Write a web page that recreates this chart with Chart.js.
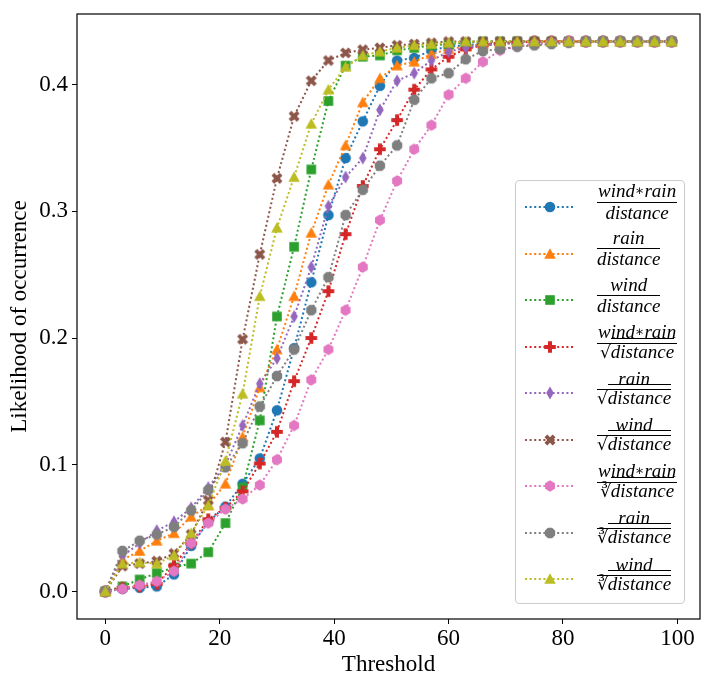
<!DOCTYPE html>
<html>
<head>
<meta charset="utf-8">
<script src="https://cdn.jsdelivr.net/npm/chart.js@4.4.1/dist/chart.umd.min.js"></script>
<style>
  body { margin: 0; background: #fff; }
  #wrap { position: relative; width: 712px; height: 689px; }
  #legend {
    position: absolute; left: 515px; top: 180px; width: 168px; height: 419px;
    padding-top: 3px; border: 1px solid #ccc; border-radius: 4px;
    background: rgba(255,255,255,0.8); font-family: "Liberation Serif", serif;
  }
  .row { height: 46.5px; display: flex; align-items: center; }
  .row canvas { margin-left: 9px; margin-right: 22px; }
  .frac { display: inline-flex; flex-direction: column; align-items: center;
          font-style: italic; font-size: 19px; position: relative; top: -5px; }
  .num { line-height: 14px; padding: 0 1px 3px 1px; white-space: nowrap; }
  .bar { align-self: stretch; border-top: 1.4px solid #000; }
  .den { line-height: 14px; padding-top: 3px; white-space: nowrap; }
  .sq { padding-top: 1px; }
  .rad { font-style: normal; font-family: "DejaVu Serif", serif; font-size: 17px; }
  .vin { border-top: 1.2px solid #000; padding-top: 2px; }
  .ast { font-style: normal; font-family: "DejaVu Serif", serif; font-size: 14px; position: relative; top: -2px; }
</style>
</head>
<body>
<div id="wrap">
  <canvas id="chart" width="712" height="689"></canvas>
  <div id="legend"></div>
</div>
<script>
const thresholds = [0, 3, 6, 9, 12, 15, 18, 21, 24, 27, 30, 33, 36, 39, 42, 45, 48, 51, 54, 57, 60, 63, 66, 69, 72, 75, 78, 81, 84, 87, 90, 93, 96, 99];

const windRainDist = [0, 0.002, 0.003, 0.004, 0.0135, 0.036, 0.055, 0.067, 0.085, 0.105, 0.143, 0.192, 0.244, 0.297, 0.342, 0.371, 0.399, 0.419, 0.421, 0.427, 0.430, 0.431, 0.432, 0.433, 0.434, 0.434, 0.434, 0.434, 0.434, 0.434, 0.434, 0.434, 0.434, 0.434];
const rainDist = [0, 0.025, 0.032, 0.040, 0.046, 0.059, 0.068, 0.085, 0.122, 0.161, 0.191, 0.233, 0.283, 0.321, 0.352, 0.386, 0.405, 0.415, 0.418, 0.424, 0.428, 0.430, 0.432, 0.433, 0.434, 0.434, 0.434, 0.434, 0.434, 0.434, 0.434, 0.434, 0.434, 0.434];
const windDist = [0, 0.004, 0.0095, 0.0145, 0.019, 0.022, 0.031, 0.054, 0.082, 0.135, 0.217, 0.272, 0.333, 0.387, 0.415, 0.422, 0.423, 0.427, 0.429, 0.431, 0.432, 0.433, 0.434, 0.434, 0.434, 0.434, 0.434, 0.434, 0.434, 0.434, 0.434, 0.434, 0.434, 0.434];
const windRainSqrt = [0, 0.003, 0.004, 0.006, 0.0205, 0.038, 0.057, 0.066, 0.079, 0.101, 0.126, 0.166, 0.200, 0.237, 0.282, 0.320, 0.349, 0.372, 0.396, 0.412, 0.422, 0.428, 0.431, 0.432, 0.433, 0.434, 0.434, 0.434, 0.434, 0.434, 0.434, 0.434, 0.434, 0.434];
const rainSqrt = [0, 0.028, 0.038, 0.048, 0.055, 0.066, 0.082, 0.100, 0.131, 0.164, 0.184, 0.217, 0.256, 0.304, 0.327, 0.342, 0.380, 0.403, 0.409, 0.419, 0.426, 0.429, 0.431, 0.432, 0.433, 0.434, 0.434, 0.434, 0.434, 0.434, 0.434, 0.434, 0.434, 0.434];
const windSqrt = [0, 0.020, 0.022, 0.024, 0.030, 0.045, 0.072, 0.118, 0.199, 0.266, 0.326, 0.375, 0.403, 0.419, 0.425, 0.4275, 0.429, 0.431, 0.432, 0.433, 0.434, 0.434, 0.434, 0.434, 0.434, 0.434, 0.434, 0.434, 0.434, 0.434, 0.434, 0.434, 0.434, 0.434];
const windRainCbrt = [0, 0.002, 0.005, 0.008, 0.016, 0.038, 0.054, 0.065, 0.073, 0.084, 0.104, 0.131, 0.167, 0.191, 0.222, 0.256, 0.293, 0.324, 0.349, 0.368, 0.392, 0.405, 0.418, 0.427, 0.430, 0.432, 0.433, 0.434, 0.434, 0.434, 0.434, 0.434, 0.434, 0.434];
const rainCbrt = [0, 0.032, 0.040, 0.045, 0.051, 0.064, 0.080, 0.098, 0.117, 0.146, 0.170, 0.191, 0.222, 0.248, 0.297, 0.317, 0.336, 0.352, 0.388, 0.405, 0.409, 0.420, 0.4265, 0.428, 0.430, 0.431, 0.432, 0.433, 0.434, 0.434, 0.434, 0.434, 0.434, 0.434];
const windCbrt = [0, 0.022, 0.023, 0.022, 0.0285, 0.046, 0.068, 0.103, 0.156, 0.233, 0.287, 0.327, 0.369, 0.396, 0.414, 0.423, 0.426, 0.429, 0.431, 0.432, 0.433, 0.434, 0.434, 0.434, 0.434, 0.434, 0.434, 0.434, 0.434, 0.434, 0.434, 0.434, 0.434, 0.434];

const seriesValues = [windRainDist, rainDist, windDist, windRainSqrt, rainSqrt, windSqrt, windRainCbrt, rainCbrt, windCbrt];
const seriesLabels = ["wind*rain/distance", "rain/distance", "wind/distance",
  "wind*rain/sqrt(distance)", "rain/sqrt(distance)", "wind/sqrt(distance)",
  "wind*rain/cbrt(distance)", "rain/cbrt(distance)", "wind/cbrt(distance)"];
const numerators = ["wind∗rain", "rain", "wind", "wind∗rain", "rain", "wind", "wind∗rain", "rain", "wind"];
const roots = ["", "", "", "√", "√", "√", "∛", "∛", "∛"];
const colors = ["#1f77b4", "#ff7f0e", "#2ca02c", "#d62728", "#9467bd", "#8c564b", "#e377c2", "#7f7f7f", "#bcbd22"];
const shapes = ["circle", "triangle", "square", "plus", "thin_diamond", "x", "hexagon", "octagon", "triangle"];

const xTicks = [0, 20, 40, 60, 80, 100];
const yTicks = [0, 0.1, 0.2, 0.3, 0.4];

// matplotlib-like marker drawn into a small canvas, used as pointStyle
function makeMarker(shape, color) {
    const size = 16;
    const c = document.createElement("canvas");
    c.width = size; c.height = size;
    const g = c.getContext("2d");
    g.translate(size / 2, size / 2);
    g.fillStyle = color;
    g.beginPath();
    const poly = pts => { pts.forEach((p, i) => i ? g.lineTo(p[0], p[1]) : g.moveTo(p[0], p[1])); g.closePath(); };
    if (shape === "circle") {
        g.arc(0, 0, 5.3, 0, Math.PI * 2);
    } else if (shape === "triangle") {
        poly([[0, -5.8], [5.8, 4.8], [-5.8, 4.8]]);
    } else if (shape === "square") {
        g.rect(-4.8, -4.8, 9.6, 9.6);
    } else if (shape === "plus" || shape === "x") {
        const a = 5.8, b = 2.0;
        if (shape === "x") { g.rotate(Math.PI / 4); }
        poly([[-b, -a], [b, -a], [b, -b], [a, -b], [a, b], [b, b], [b, a], [-b, a], [-b, b], [-a, b], [-a, -b], [-b, -b]]);
    } else if (shape === "thin_diamond") {
        poly([[0, -6.4], [3.8, 0], [0, 6.4], [-3.8, 0]]);
    } else if (shape === "hexagon") {
        const pts = [];
        for (let k = 0; k < 6; k++) { const t = -Math.PI / 2 + k * Math.PI / 3; pts.push([5.7 * Math.cos(t), 5.7 * Math.sin(t)]); }
        poly(pts);
    } else if (shape === "octagon") {
        const pts = [];
        for (let k = 0; k < 8; k++) { const t = Math.PI / 8 + k * Math.PI / 4; pts.push([5.6 * Math.cos(t), 5.6 * Math.sin(t)]); }
        poly(pts);
    }
    g.fill();
    return c;
}

const markers = shapes.map((s, i) => makeMarker(s, colors[i]));

const datasets = seriesValues.map((vals, i) => ({
    label: seriesLabels[i],
    data: vals.map((v, j) => ({ x: thresholds[j], y: v })),
    borderColor: colors[i],
    backgroundColor: colors[i],
    borderWidth: 2,
    borderDash: [2, 2.6],
    borderCapStyle: "butt",
    pointStyle: markers[i],
    pointRadius: 5,
    tension: 0,
    order: seriesValues.length - 1 - i
}));

const frame = {
    id: "frame",
    afterDatasetsDraw(chart) {
        const a = chart.chartArea;
        const ctx = chart.ctx;
        ctx.save();
        ctx.strokeStyle = "#000";
        ctx.lineWidth = 1.2;
        ctx.strokeRect(a.left, a.top, a.right - a.left, a.bottom - a.top);
        ctx.restore();
    }
};

const font = { family: "'Liberation Serif', serif", size: 23 };

new Chart(document.getElementById("chart"), {
    type: "line",
    data: { datasets: datasets },
    plugins: [frame],
    options: {
        responsive: false,
        animation: false,
        layout: { padding: { left: 0, right: 12, top: 14, bottom: 0 } },
        plugins: { legend: { display: false }, tooltip: { enabled: false } },
        scales: {
            x: {
                type: "linear",
                min: -4.95,
                max: 103.95,
                afterBuildTicks: s => { s.ticks = xTicks.map(v => ({ value: v })); },
                afterFit: s => { s.height = 70; s.paddingLeft = 0; s.paddingRight = 0; },
                ticks: { font: font, color: "#000", padding: 1, maxRotation: 0 },
                grid: { drawOnChartArea: false, drawTicks: true, tickLength: 5, color: "#000" },
                border: { display: false },
                title: { display: true, text: "Threshold", font: font, color: "#000", padding: { top: 0, bottom: 10 } }
            },
            y: {
                type: "linear",
                min: -0.0217,
                max: 0.4557,
                afterBuildTicks: s => { s.ticks = yTicks.map(v => ({ value: v })); },
                afterFit: s => { s.width = 77; s.paddingTop = 0; s.paddingBottom = 0; },
                ticks: { font: font, color: "#000", padding: 4, callback: v => v.toFixed(1) },
                grid: { drawOnChartArea: false, drawTicks: true, tickLength: 5, color: "#000" },
                border: { display: false },
                title: { display: true, text: "Likelihood of occurrence", font: font, color: "#000", padding: { top: 6, bottom: 0 } }
            }
        }
    }
});

// legend with the formulas as stacked fractions
const legend = document.getElementById("legend");
seriesLabels.forEach((name, i) => {
    const row = document.createElement("div");
    row.className = "row";
    const sample = document.createElement("canvas");
    sample.width = 50; sample.height = 16;
    const g = sample.getContext("2d");
    g.strokeStyle = colors[i];
    g.lineWidth = 2;
    g.setLineDash([2, 2.6]);
    g.beginPath(); g.moveTo(0, 8); g.lineTo(50, 8); g.stroke();
    g.drawImage(markers[i], 25 - 8, 0);
    row.appendChild(sample);
    const frac = document.createElement("span");
    frac.className = "frac";
    const num = numerators[i].replace("∗", '<span class="ast">∗</span>');
    let den = '<span class="den">distance</span>';
    if (roots[i]) {
        den = '<span class="den sq"><span class="rad">' + roots[i] + '</span><span class="vin">distance</span></span>';
    }
    frac.innerHTML = '<span class="num">' + num + '</span><span class="bar"></span>' + den;
    row.appendChild(frac);
    legend.appendChild(row);
});
</script>
</body>
</html>
